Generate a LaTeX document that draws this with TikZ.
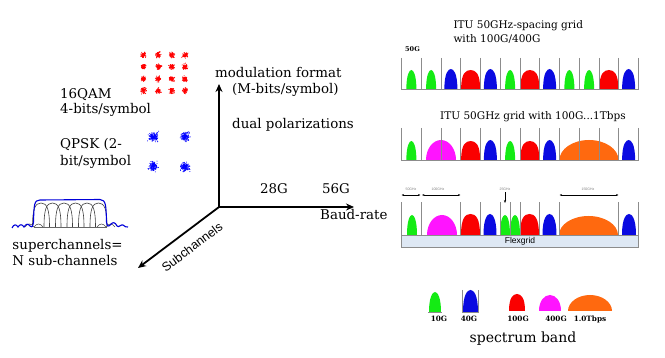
\documentclass[tikz,border=0pt]{standalone}
\usepackage{fontspec}
\setmainfont{DejaVu Serif}
\newfontfamily\sansf{Liberation Sans}
\usetikzlibrary{arrows.meta}
\definecolor{pgreen}{RGB}{20,235,20}
\definecolor{pblue}{RGB}{10,10,225}
\definecolor{pred}{RGB}{250,0,0}
\definecolor{pmag}{RGB}{255,20,255}
\definecolor{porange}{RGB}{255,105,15}
\definecolor{gridgray}{RGB}{140,140,140}
\definecolor{barfill}{RGB}{222,232,244}
\newcommand\dome[7]{\fill[#7] ({#1-#3},#2) .. controls ({#1-#3},{#2-#5*#4}) and ({#1-#6*#3},{#2-#4}) .. ({#1},{#2-#4}) .. controls ({#1+#6*#3},{#2-#4}) and ({#1+#3},{#2-#5*#4}) .. ({#1+#3},#2) -- cycle;}
\newcommand\pulseG[2]{\dome{#1}{#2}{5}{19}{0.75}{0.4}{pgreen}}
\newcommand\pulseB[2]{\dome{#1}{#2}{6.5}{20}{0.8}{0.4}{pblue}}
\newcommand\pulseR[2]{\dome{#1}{#2}{9.5}{19}{0.8}{0.55}{pred}}
\newcommand\cluster[6]{% x y spread n color dotradius
  \foreach \k in {1,...,#4}{%
    \pgfmathsetmacro\ddx{(rand+rand+rand)*#3}%
    \pgfmathsetmacro\ddy{(rand+rand+rand)*#3}%
    \fill[#5] ({#1+\ddx},{#2+\ddy}) circle (#6);}}
\tikzset{
  txt/.style={font=\fontsize{13.4}{15}\selectfont, inner sep=0pt, anchor=base west},
  ttl/.style={font=\fontsize{10.5}{12}\selectfont, inner sep=0pt, anchor=base west},
  axis/.style={line width=1.8pt, -{Stealth[length=8pt,width=7pt]}},
  gridl/.style={gridgray, line width=0.9pt},
  basel/.style={gridgray, line width=1.6pt},
  lab/.style={font=\fontsize{7.3}{8}\selectfont\bfseries, inner sep=0pt, anchor=base},
  tiny/.style={font=\sansf\fontsize{3.5}{4}\selectfont, text=gray, inner sep=0pt},
  sarrow/.style={line width=0.5pt, {Stealth[length=2.5pt]}-{Stealth[length=2.5pt]}},
}
\begin{document}
\begin{tikzpicture}[x=1pt,y=-1pt]
\useasboundingbox (0,0) rectangle (665,358);
\fill[white] (0,0) rectangle (665,358);
\pgfmathsetseed{12}
% ---- constellations
\foreach \cx in {143.3,158.3,171.7,185}{
  \foreach \cy in {55,66.7,79,90.7}{
    \cluster{\cx}{\cy}{1.25}{70}{red}{0.55}}}
\foreach \cx/\cy in {153.3/136.7,185/136.7,153.3/166,185/166.7}{
  \cluster{\cx}{\cy}{2.1}{170}{blue}{0.5}}
% ---- left texts
\node[txt] (qam1) at (60,98.3) {16QAM};
\node[txt] (qam2) at (60,113.5) {4-bits/symbol};
\node[txt] (qpsk1) at (60,149) {QPSK (2-};
\node[txt] (qpsk2) at (60,165.5) {bit/symbol};
\node[txt] (mod1) at (215,78) {modulation format};
\node[txt] (mod2) at (232,93.5) {(M-bits/symbol)};
\node[txt] (dual) at (232,129) {dual polarizations};
\node[txt] (b28) at (260,193.5) {28G};
\node[txt] (b56) at (322,193.5) {56G};
\node[txt] (baud) at (320,220) {Baud-rate};
\node[txt] (sc1) at (12.3,250) {superchannels=};
\node[txt] (sc2) at (12.3,266) {N sub-channels};
% ---- axes
\coordinate (O) at (219,207);
\coordinate (up) at (219,84);
\coordinate (right) at (354,207);
\coordinate (dl) at (138,268);
\draw[axis] (O) -- (up);
\draw[axis] (O) -- (right);
\draw[axis] (O) -- (dl);
\node[font=\sansf\fontsize{12.5}{14}\selectfont, rotate=36.87, inner sep=0pt] (subc) at (192,247) {Subchannels};
% ---- superchannel sketch
\foreach \c in {41,52.5,64,75.5,87,98.5}{
  \draw[black!75, line width=0.6pt] ({\c-8.5},227) .. controls ({\c-8.5},209) and ({\c-6},203) .. (\c,203) .. controls ({\c+6},203) and ({\c+8.5},209) .. ({\c+8.5},227);
}
\draw[black!70, line width=0.5pt] (25,227) .. controls (28,223) and (31,223) .. (34,227)
  .. controls (37,223) and (40,223) .. (43,227);
\draw[black!70, line width=0.5pt] (97,227) .. controls (100,223) and (103,223) .. (106,227)
  .. controls (109,223) and (112,223) .. (115,227);
\draw[black!60, line width=0.4pt] (34,227) -- (107,227);
\draw[blue!85!black, line width=1.1pt] (12,228) .. controls (14,224) and (16,224) .. (18,227)
  .. controls (20,224) and (22,224) .. (24,227) .. controls (26,224) and (28,223) .. (30,226)
  .. controls (32,228) and (33,226) .. (33.5,222) .. controls (34,205) and (34,200) .. (40,200)
  -- (100,199.5) .. controls (106,200) and (106,205) .. (106.5,222)
  .. controls (107,227) and (109,227) .. (111,224) .. controls (113,222) and (115,222) .. (117,226)
  .. controls (119,228) and (121,224) .. (123,225) .. controls (125,226) and (126,228) .. (128,227);
% ---- panel 1
\node[ttl] (t1a) at (453.3,28.3) {ITU 50GHz-spacing grid};
\node[ttl] (t1b) at (453.3,42.7) {with 100G/400G};
\node[font=\fontsize{6.5}{7}\selectfont\bfseries, inner sep=0pt, anchor=base west] (l50) at (405,51.7) {50G};
\foreach \s/\c in {0/G,1/G,2/B,3/R,4/B,5/G,6/R,7/B,8/G,9/G,10/R,11/B}{
  \pgfmathsetmacro\xc{401.5+19.75*(\s+0.5)}
  \csname pulse\c\endcsname{\xc}{89}
}
\foreach \i in {0,...,12}{\draw[gridl] ({401.5+19.75*\i},58) -- ({401.5+19.75*\i},89);}
\draw[basel] (401,89.5) -- (639,89.5);
% ---- panel 2
\node[ttl] (t2) at (440,120) {ITU 50GHz grid with 100G...1Tbps};
\foreach \s/\c in {0/G,3/R,4/B,5/G,6/R,7/B,11/B}{
  \pgfmathsetmacro\xc{401.5+19.75*(\s+0.5)}
  \csname pulse\c\endcsname{\xc}{160}
}
\dome{441}{160}{15}{20}{0.55}{0.55}{pmag}
\dome{589}{160}{29.5}{20}{0.55}{0.55}{porange}
\foreach \i in {0,...,12}{\draw[gridl] ({401.5+19.75*\i},128) -- ({401.5+19.75*\i},160);}
\draw[basel] (401,160.5) -- (639,160.5);
% ---- panel 3
\draw[gridgray, line width=0.8pt, fill=barfill] (401.5,235) rectangle (638.5,247);
\node[font=\sansf\fontsize{8.5}{9}\selectfont, inner sep=0pt] (flex) at (520,241.2) {Flexgrid};
\dome{412}{235}{5}{20}{0.75}{0.4}{pgreen}
\dome{442}{235}{15}{20}{0.55}{0.55}{pmag}
\dome{470.5}{235}{9.5}{21}{0.8}{0.55}{pred}
\dome{490}{235}{6.5}{21}{0.8}{0.4}{pblue}
\dome{505}{235}{5}{20}{0.75}{0.4}{pgreen}
\dome{515}{235}{5}{20}{0.75}{0.4}{pgreen}
\dome{529.5}{235}{9.5}{21}{0.8}{0.55}{pred}
\dome{549.5}{235}{7}{21}{0.8}{0.4}{pblue}
\dome{588.5}{235}{29.5}{19}{0.55}{0.55}{porange}
\dome{629}{235}{7}{21}{0.8}{0.4}{pblue}
\foreach \xx in {401.5,421.25,460.75,480.5,500.25,510.1,520,539.75,559.5,618.75,638.5}{
  \draw[gridl] (\xx,202.5) -- (\xx,235);}
\coordinate (a1) at (401.5,195); \coordinate (a2) at (420.5,195);
\coordinate (a3) at (422,195); \coordinate (a4) at (460.5,195);
\coordinate (a5) at (559.5,195); \coordinate (a6) at (618.5,195);
\coordinate (d1) at (505,192.5); \coordinate (d2) at (505,203);
\draw[sarrow] (a1) -- (a2);
\draw[sarrow] (a3) -- (a4);
\draw[sarrow] (a5) -- (a6);
\draw[line width=0.6pt, -{Stealth[length=3pt]}] (d1) -- (d2);
\node[tiny] (g50) at (411,189.5) {50GHz};
\node[tiny] (g100) at (438,189.5) {100GHz};
\node[tiny] (g25) at (505,189) {25GHz};
\node[tiny] (g150) at (588,189.5) {150GHz};
% ---- legend
\dome{435}{312}{6}{20}{0.75}{0.4}{pgreen}
\draw[gridgray, line width=0.6pt] (428,312.3) -- (442,312.3);
\dome{470.5}{312}{7.5}{22}{0.8}{0.4}{pblue}
\draw[gridgray, line width=0.5pt] (462.5,290) -- (462.5,312.3) -- (478.5,312.3) -- (478.5,290);
\dome{517}{311}{8}{17}{0.75}{0.55}{pred}
\dome{550}{311}{11}{16}{0.6}{0.55}{pmag}
\dome{590}{311}{22}{16}{0.55}{0.55}{porange}
\node[lab] (k10) at (439,322) {10G};
\node[lab] (k40) at (469,322) {40G};
\node[lab] (k100) at (518,322) {100G};
\node[lab] (k400) at (556,322) {400G};
\node[lab] (k1t) at (590,322) {1.0Tbps};
\node[font=\fontsize{14}{16}\selectfont, inner sep=0pt, anchor=base] (spec) at (523,343) {spectrum band};
\end{tikzpicture}
\end{document}
